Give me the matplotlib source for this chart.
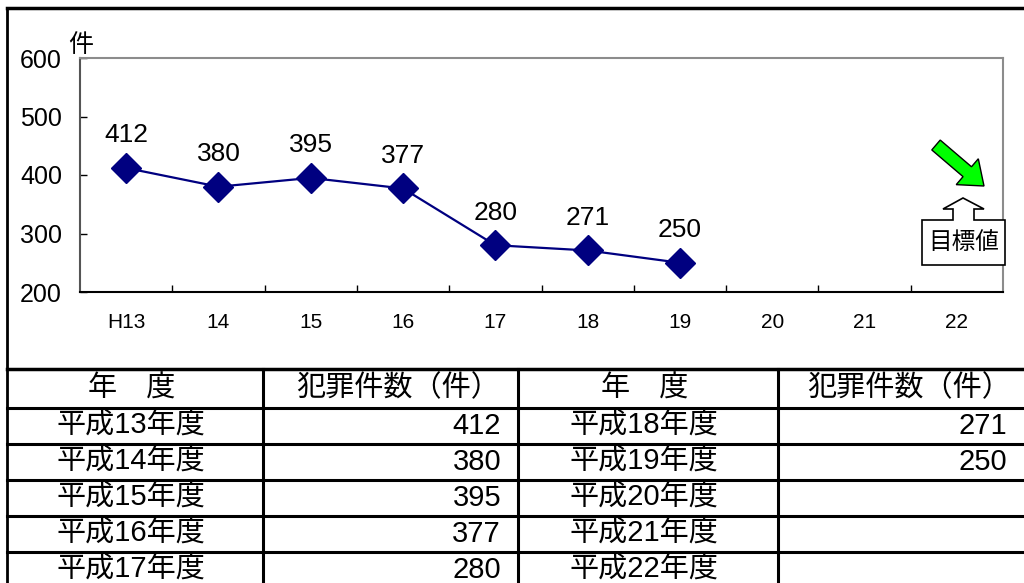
import matplotlib
matplotlib.use('Agg')
import matplotlib.pyplot as plt
import matplotlib.ticker as ticker
from matplotlib.patches import Polygon, FancyArrow

plt.rcParams['font.family'] = ['Liberation Sans', 'Noto Sans CJK JP']

# chart data
years = ['H13', '14', '15', '16', '17', '18', '19', '20', '21', '22']
counts = [412, 380, 395, 377, 280, 271, 250]

# table data
header_year = '年\u3000度'
header_count = '犯罪件数（件）'
fiscal_years = ['平成13年度', '平成14年度', '平成15年度', '平成16年度', '平成17年度',
                '平成18年度', '平成19年度', '平成20年度', '平成21年度', '平成22年度']
table_counts = ['412', '380', '395', '377', '280', '271', '250', '', '', '']

W, H = 1024, 583
fig = plt.figure(figsize=(W / 100, H / 100), dpi=100)

# line chart
ax = fig.add_axes([80 / W, 1 - 292 / H, 923 / W, 234 / H])
x = [i + 0.5 for i in range(len(counts))]
ax.plot(x, counts, color='#000080', lw=1.6, marker='D', ms=15,
        mfc='#000080', mec='#000080', clip_on=False)
for xi, v in zip(x, counts):
    ax.annotate(str(v), (xi, v), xytext=(0, 23.5), textcoords='offset points',
                ha='center', va='center', fontsize=19)

ax.set_xlim(0, len(years))
ax.set_ylim(200, 600)
ax.yaxis.set_major_locator(ticker.MultipleLocator(100))
ax.set_xticks(range(1, len(years)))
ax.set_xticklabels([])
ax.set_xticks([i + 0.5 for i in range(len(years))], minor=True)
ax.set_xticklabels(years, minor=True)
ax.tick_params(axis='x', which='major', direction='in', length=5, width=1)
ax.tick_params(axis='x', which='minor', length=0, pad=15, labelsize=15)
ax.tick_params(axis='y', direction='in', length=5, width=1, pad=13, labelsize=18)

ax.spines['left'].set_color('#555555')
ax.spines['top'].set_color('#8c8c8c')
ax.spines['right'].set_color('#8c8c8c')
ax.spines['bottom'].set_color('black')
for s in ax.spines.values():
    s.set_linewidth(1.5)

# overlay in pixel coordinates: frame, callouts, table
ov = fig.add_axes([0, 0, 1, 1], zorder=5)
ov.set_xlim(0, W)
ov.set_ylim(H, 0)
ov.axis('off')

ov.text(81, 45, '件', ha='center', va='center', fontsize=18)

# outer frame
ov.plot([7, 7], [8, H], color='black', lw=2)
ov.plot([7, W], [8, 8], color='black', lw=2.5)

# target arrow + callout
ov.add_patch(FancyArrow(936, 145, 48, 41, width=13, head_width=34, head_length=22,
                        length_includes_head=True, fc='#00ff00', ec='black', lw=1))
callout = [(922, 265), (922, 220), (953, 220), (953, 209), (943, 209), (963, 198),
           (984, 209), (974, 209), (974, 220), (1005, 220), (1005, 265)]
ov.add_patch(Polygon(callout, closed=True, fc='white', ec='black', lw=1.2))
ov.text(964, 243, '目標値', ha='center', va='center', fontsize=17)

# table
col_x = [7, 263, 518, 778, W]
row_y = [369, 408, 444, 480, 516, 552, 588]
ov.plot([7, W], [row_y[0], row_y[0]], color='black', lw=2.5)
for y in row_y[1:-1]:
    ov.plot([7, W], [y, y], color='black', lw=2.2)
for cx in col_x[1:-1]:
    ov.plot([cx, cx], [row_y[0], H], color='black', lw=2.2)

hy = (row_y[0] + row_y[1]) / 2
for c in (0, 2):
    ov.text((col_x[c] + col_x[c + 1]) / 2 - 3, hy, header_year, ha='center', va='center', fontsize=21)
    ov.text((col_x[c + 1] + col_x[c + 2]) / 2 + 8, hy, header_count, ha='center', va='center', fontsize=21)

n = len(fiscal_years) // 2
for i, (fy, cnt) in enumerate(zip(fiscal_years, table_counts)):
    c = 0 if i < n else 2
    r = i % n
    y = (row_y[r + 1] + row_y[r + 2]) / 2
    ov.text((col_x[c] + col_x[c + 1]) / 2 - 4, y, fy, ha='center', va='center', fontsize=21)
    ov.text(col_x[c + 2] - 17, y, cnt, ha='right', va='center', fontsize=21)

fig.savefig('out.png', dpi=100)
